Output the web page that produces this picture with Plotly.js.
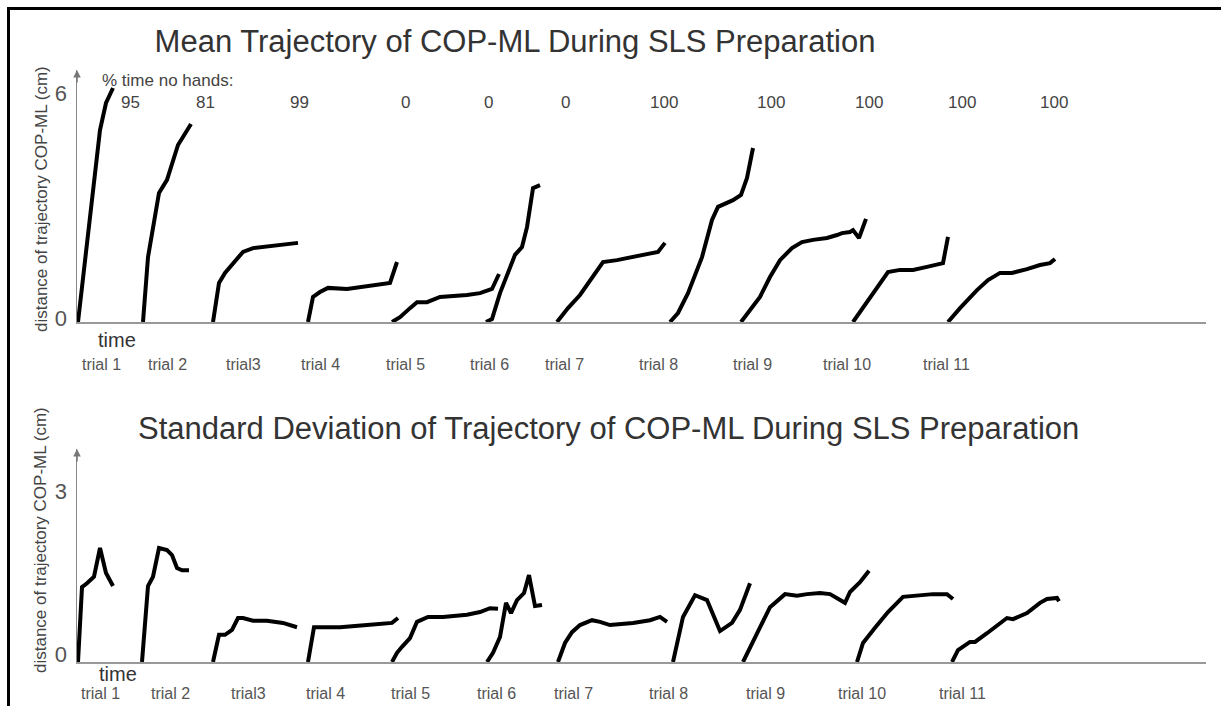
<!DOCTYPE html>
<html>
<head>
<meta charset="utf-8">
<script src="https://cdn.plot.ly/plotly-3.0.1.min.js"></script>
<style>html,body{margin:0;padding:0;background:#fff;}#chart{width:1221px;height:706px;}</style>
</head>
<body>
<div id="chart"></div>
<script>
// ---------- data ----------
const trialNames = ['trial 1','trial 2','trial3','trial 4','trial 5','trial 6','trial 7','trial 8','trial 9','trial 10','trial 11'];
const noHandsPct = [95, 81, 99, 0, 0, 0, 100, 100, 100, 100, 100];

// Mean trajectory of COP-ML (cm): time (arbitrary units, trials laid side by side) and distance
const meanTime = [
  [0,10,22,28,35],
  [65,70,81,89,100,113],
  [135,141,147,155,165,175,195,220],
  [230,235,242,250,269,292,312,319],
  [314,322,332,339,349,362,389,402,414,417,421],
  [408,414,422,437,444,449,455,462],
  [479,490,502,514,525,539,555,580,587],
  [592,600,610,624,634,640,655,663,669,675],
  [663,672,682,692,702,714,724,735,749,759,764,772,775,781,788],
  [775,792,802,810,822,835,849,865,870],
  [870,882,899,910,922,934,949,962,972,977]
];
const meanDist = [
  [0,2.37,5.12,5.84,6.24],
  [0,1.73,3.44,3.79,4.72,5.28],
  [0,1.04,1.31,1.57,1.87,1.97,2.03,2.11],
  [0,0.67,0.80,0.91,0.88,0.96,1.04,1.60],
  [0,0.13,0.37,0.53,0.53,0.67,0.72,0.77,0.88,1.07,1.28],
  [0,0.08,0.77,1.79,2.00,2.53,3.57,3.65],
  [0,0.37,0.72,1.17,1.60,1.65,1.73,1.87,2.11],
  [0,0.24,0.77,1.73,2.72,3.07,3.25,3.39,3.84,4.64],
  [0,0.32,0.67,1.20,1.65,1.97,2.13,2.19,2.24,2.32,2.37,2.40,2.45,2.24,2.75],
  [0,0.64,1.04,1.33,1.39,1.39,1.47,1.57,2.27],
  [0,0.37,0.85,1.12,1.31,1.31,1.41,1.52,1.57,1.68]
];

// Standard deviation of trajectory of COP-ML (cm)
const sdTime = [
  [0,4,9,16,22,28,35],
  [64,70,75,81,89,94,99,104,111],
  [135,141,147,154,160,165,175,189,205,219],
  [230,236,245,262,289,314,320],
  [314,319,324,332,339,350,365,389,402,412,420],
  [409,415,422,428,433,439,446,451,457,464],
  [480,487,494,502,514,522,532,555,572,582,589],
  [595,605,617,629,642,654,662,667,672],
  [665,679,692,707,719,729,742,752,767,772,782,791],
  [779,785,797,810,825,839,855,869,875],
  [874,880,892,897,909,922,929,935,949,962,969,979,981]
];
const sdDist = [
  [0,1.38,1.45,1.57,2.10,1.64,1.40],
  [0,1.40,1.57,2.10,2.06,1.97,1.73,1.69,1.69],
  [0,0.50,0.50,0.59,0.81,0.81,0.76,0.76,0.72,0.64],
  [0,0.64,0.64,0.64,0.68,0.72,0.81],
  [0,0.17,0.28,0.44,0.74,0.83,0.83,0.87,0.92,0.99,0.98],
  [0,0.17,0.46,1.09,0.90,1.14,1.27,1.60,1.03,1.05],
  [0,0.35,0.55,0.68,0.77,0.74,0.68,0.72,0.77,0.83,0.74],
  [0,0.83,1.23,1.14,0.57,0.72,0.96,1.20,1.45],
  [0,0.53,1.01,1.25,1.22,1.25,1.27,1.25,1.09,1.29,1.47,1.68],
  [0,0.35,0.63,0.92,1.20,1.23,1.25,1.25,1.16],
  [0,0.22,0.37,0.37,0.53,0.72,0.81,0.79,0.90,1.09,1.16,1.18,1.12]
];

// ---------- layout positions (pixels / time units for labels) ----------
const W = 1221, H = 706;
const px = v => v / W;
const py = v => (H - v) / H;
const FONT = 'Liberation Sans, Arial, sans-serif';

const noHandsX = [52,127,221,327,410,487,586,693,791,884,976];
const topTrialX = [23,89,165,242,327,411,486,580,674,769,868];
const botTrialX = [22,92,170,247,332,418,495,590,687,784,884];

const traces = [];
meanTime.forEach((t, i) => {
  traces.push({x: t, y: meanDist[i], type: 'scatter', mode: 'lines', xaxis: 'x', yaxis: 'y',
    name: trialNames[i], line: {color: '#000', width: 4}, hoverinfo: 'skip', showlegend: false});
});
sdTime.forEach((t, i) => {
  traces.push({x: t, y: sdDist[i], type: 'scatter', mode: 'lines', xaxis: 'x2', yaxis: 'y2',
    name: trialNames[i], line: {color: '#000', width: 4}, hoverinfo: 'skip', showlegend: false});
});

const C = {xanchor: 'center', yanchor: 'middle', showarrow: false};
const annotations = [];
annotations.push(Object.assign({text: 'Standard Deviation of Trajectory of COP-ML During SLS Preparation',
  xref: 'paper', yref: 'paper', x: px(608), y: py(428),
  font: {family: FONT, size: 31, color: '#333'}}, C));
annotations.push(Object.assign({text: 'distance of trajectory COP-ML (cm)', textangle: -90,
  xref: 'paper', yref: 'paper', x: px(41), y: py(199),
  font: {family: FONT, size: 17, color: '#444'}}, C));
annotations.push(Object.assign({text: 'distance of trajectory COP-ML (cm)', textangle: -90,
  xref: 'paper', yref: 'paper', x: px(40), y: py(540),
  font: {family: FONT, size: 17, color: '#444'}}, C));
annotations.push(Object.assign({text: '% time no hands:', xref: 'paper', yref: 'paper', x: px(167), y: py(81),
  font: {family: FONT, size: 17, color: '#444'}}, C));
noHandsPct.forEach((v, i) => {
  annotations.push(Object.assign({text: String(v), xref: 'x', yref: 'paper', x: noHandsX[i], y: py(103),
    font: {family: FONT, size: 17, color: '#444'}}, C));
});
trialNames.forEach((n, i) => {
  annotations.push(Object.assign({text: n, xref: 'x', yref: 'paper', x: topTrialX[i], y: py(364),
    font: {family: FONT, size: 16, color: '#555'}}, C));
  annotations.push(Object.assign({text: n, xref: 'x2', yref: 'paper', x: botTrialX[i], y: py(693),
    font: {family: FONT, size: 16, color: '#555'}}, C));
});
annotations.push(Object.assign({text: 'time', xref: 'paper', yref: 'paper', x: px(117), y: py(340),
  font: {family: FONT, size: 20, color: '#333'}}, C));
annotations.push(Object.assign({text: 'time', xref: 'paper', yref: 'paper', x: px(118), y: py(674),
  font: {family: FONT, size: 20, color: '#333'}}, C));
// axis arrowheads
[70, 449].forEach(top => {
  annotations.push({text: '', xref: 'paper', yref: 'paper', x: px(77), y: py(top),
    showarrow: true, ax: 0, ay: 14, arrowhead: 2, arrowsize: 1, arrowwidth: 1.5, arrowcolor: '#777', standoff: 0});
});

const xBase = {domain: [px(77), px(1206)], range: [-1, 1128], showgrid: false, zeroline: false,
  showline: true, linecolor: '#999', linewidth: 2, showticklabels: false, ticks: '', fixedrange: true};
const yBase = {showgrid: false, zeroline: false, showline: true, linecolor: '#888', linewidth: 1.5,
  ticks: '', tickfont: {family: FONT, size: 22, color: '#555'}, ticklabelstandoff: 4, fixedrange: true};

const layout = {
  width: W, height: H,
  margin: {l: 0, r: 0, t: 0, b: 0},
  paper_bgcolor: '#fff', plot_bgcolor: '#fff',
  showlegend: false,
  title: {text: 'Mean Trajectory of COP-ML During SLS Preparation', x: px(515), xanchor: 'center',
    y: py(41), yanchor: 'middle', xref: 'paper', yref: 'paper', font: {family: FONT, size: 31, color: '#333'}},
  xaxis: Object.assign({}, xBase, {anchor: 'y'}),
  yaxis: Object.assign({}, yBase, {domain: [py(322), py(70)], range: [0, (322 - 70) / 37.5],
    tickvals: [0, 6], ticktext: ['0', '6'], anchor: 'x', ticklabelshift: -4}),
  xaxis2: Object.assign({}, xBase, {anchor: 'y2'}),
  yaxis2: Object.assign({}, yBase, {domain: [py(662), py(449)], range: [0, (662 - 449) / 54.3],
    tickvals: [0, 3], ticktext: ['0', '3'], anchor: 'x2', ticklabelshift: -8}),
  annotations: annotations,
  shapes: [
    {type: 'line', xref: 'paper', yref: 'paper', x0: px(8.5), x1: px(8.5), y0: 0, y1: py(7), line: {color: '#000', width: 3}},
    {type: 'line', xref: 'paper', yref: 'paper', x0: px(7), x1: 1, y0: py(8.5), y1: py(8.5), line: {color: '#000', width: 3}}
  ]
};

Plotly.newPlot('chart', traces, layout, {displayModeBar: false, staticPlot: true});
</script>
</body>
</html>
